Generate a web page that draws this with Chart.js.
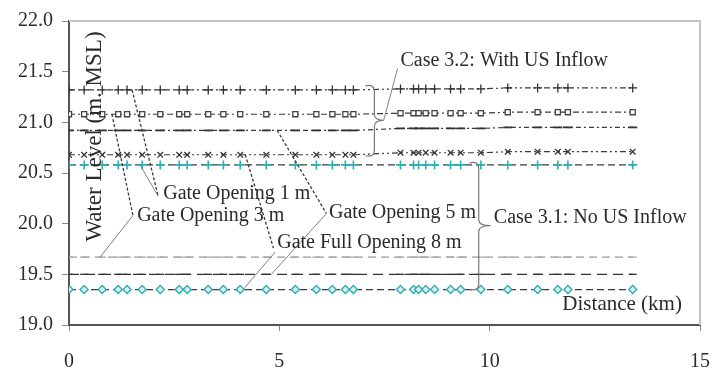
<!DOCTYPE html>
<html>
<head>
<meta charset="utf-8">
<script src="https://cdn.jsdelivr.net/npm/chart.js@4/dist/chart.umd.min.js"></script>
<style>
  html, body { margin: 0; padding: 0; background: #ffffff; }
  #wrap { width: 712px; height: 372px; }
</style>
</head>
<body>
<div id="wrap"><canvas id="c" width="712" height="372"></canvas></div>
<script>
// Cross-section chainages along the reach (km)
const distanceKm = [0, 0.36, 0.79, 1.17, 1.38, 1.74, 2.17, 2.62, 2.81, 3.31, 3.67, 4.07,
  4.69, 5.38, 5.88, 6.26, 6.57, 6.76, 7.88, 8.19, 8.31, 8.48, 8.69, 9.07, 9.31, 9.79,
  10.43, 11.14, 11.62, 11.86, 13.40];

// Case 3.2: with upstream inflow (water level, m MSL)
const withInflowGate1 = [21.32, 21.32, 21.32, 21.32, 21.32, 21.32, 21.32, 21.32, 21.32, 21.32,
  21.32, 21.32, 21.32, 21.32, 21.32, 21.32, 21.32, 21.32, 21.33, 21.33, 21.33, 21.33, 21.33,
  21.33, 21.33, 21.33, 21.34, 21.34, 21.34, 21.34, 21.34];
const withInflowGate3 = [21.08, 21.08, 21.08, 21.08, 21.08, 21.08, 21.08, 21.08, 21.08, 21.08,
  21.08, 21.08, 21.08, 21.08, 21.08, 21.08, 21.08, 21.08, 21.09, 21.09, 21.09, 21.09, 21.09,
  21.09, 21.09, 21.09, 21.10, 21.10, 21.10, 21.10, 21.10];
const withInflowGate5 = [20.92, 20.92, 20.92, 20.92, 20.92, 20.92, 20.92, 20.92, 20.92, 20.92,
  20.92, 20.92, 20.92, 20.92, 20.92, 20.92, 20.92, 20.92, 20.94, 20.94, 20.94, 20.94, 20.94,
  20.94, 20.94, 20.94, 20.95, 20.95, 20.95, 20.95, 20.95];
const withInflowGate8 = [20.68, 20.68, 20.68, 20.68, 20.68, 20.68, 20.68, 20.68, 20.68, 20.68,
  20.68, 20.68, 20.68, 20.68, 20.68, 20.68, 20.68, 20.68, 20.70, 20.70, 20.70, 20.70, 20.70,
  20.70, 20.70, 20.70, 20.71, 20.71, 20.71, 20.71, 20.71];

// Case 3.1: no upstream inflow (water level, m MSL)
const noInflowGate1 = [20.58, 20.58, 20.58, 20.58, 20.58, 20.58, 20.58, 20.58, 20.58, 20.58,
  20.58, 20.58, 20.58, 20.58, 20.58, 20.58, 20.58, 20.58, 20.58, 20.58, 20.58, 20.58, 20.58,
  20.58, 20.58, 20.58, 20.58, 20.58, 20.58, 20.58, 20.58];
const noInflowGate3 = [19.67, 19.67, 19.67, 19.67, 19.67, 19.67, 19.67, 19.67, 19.67, 19.67,
  19.67, 19.67, 19.67, 19.67, 19.67, 19.67, 19.67, 19.67, 19.67, 19.67, 19.67, 19.67, 19.67,
  19.67, 19.67, 19.67, 19.67, 19.67, 19.67, 19.67, 19.67];
const noInflowGate5 = [19.50, 19.50, 19.50, 19.50, 19.50, 19.50, 19.50, 19.50, 19.50, 19.50,
  19.50, 19.50, 19.50, 19.50, 19.50, 19.50, 19.50, 19.50, 19.50, 19.50, 19.50, 19.50, 19.50,
  19.50, 19.50, 19.50, 19.50, 19.50, 19.50, 19.50, 19.50];
const noInflowGate8 = [19.35, 19.35, 19.35, 19.35, 19.35, 19.35, 19.35, 19.35, 19.35, 19.35,
  19.35, 19.35, 19.35, 19.35, 19.35, 19.35, 19.35, 19.35, 19.35, 19.35, 19.35, 19.35, 19.35,
  19.35, 19.35, 19.35, 19.35, 19.35, 19.35, 19.35, 19.35];

const xTicks = [0, 5, 10, 15];
const yTicks = [19.0, 19.5, 20.0, 20.5, 21.0, 21.5, 22.0];

const axisTitleX = 'Distance (km)';
const axisTitleY = 'Water Level (m. MSL)';
const caseWith = 'Case 3.2: With US Inflow';
const caseWithout = 'Case 3.1: No US Inflow';
const gateLabels = ['Gate Opening 1 m', 'Gate Opening 3 m', 'Gate Opening 5 m', 'Gate Full Opening 8 m'];

const SERIF = '"Liberation Serif", "Times New Roman", serif';
const INK = '#2b2b2b';
const TEAL = '#33adb0';

function pts(ys) { return distanceKm.map((x, i) => ({ x: x, y: ys[i] })); }

function series(label, ys, opt) {
  return Object.assign({
    label: label,
    data: pts(ys),
    showLine: true,
    fill: false,
    tension: 0,
    borderWidth: 1.2,
    borderColor: '#3a3a3a',
    pointBorderWidth: 1.3,
    pointRadius: 3.8,
    pointBackgroundColor: '#ffffff'
  }, opt);
}

const datasets = [
  series('3.2 gate 1 m', withInflowGate1, { borderDash: [6, 3, 2, 3, 2, 3], pointStyle: 'cross', pointRadius: 4.5, pointBorderColor: '#333' }),
  series('3.2 gate 3 m', withInflowGate3, { borderDash: [6, 3, 2, 3], pointStyle: 'rect', pointRadius: 3.6, pointBorderColor: '#444' }),
  series('3.2 gate 5 m', withInflowGate5, { borderDash: [5, 3, 2, 3], pointStyle: 'line', pointRadius: 4.5, pointBorderColor: '#333', pointBorderWidth: 1.8 }),
  series('3.2 gate 8 m', withInflowGate8, { borderDash: [6, 3, 2, 3, 2, 3], pointStyle: 'crossRot', pointRadius: 4, pointBorderColor: '#333' }),
  series('3.1 gate 1 m', noInflowGate1, { borderDash: [7, 4], pointStyle: 'cross', pointRadius: 4.5, pointBorderColor: TEAL, pointBorderWidth: 1.6 }),
  series('3.1 gate 3 m', noInflowGate3, { borderDash: [8, 5], borderColor: '#9a9a9a', pointStyle: 'line', pointRadius: 4, pointBorderColor: '#aaaaaa' }),
  series('3.1 gate 5 m', noInflowGate5, { borderDash: [10, 6], borderColor: '#333', pointStyle: 'line', pointRadius: 4, pointBorderColor: '#333' }),
  series('3.1 gate 8 m', noInflowGate8, { borderDash: [7, 4], pointStyle: 'rectRot', pointRadius: 4, pointBorderColor: TEAL, pointBackgroundColor: '#d8f0f0', pointBorderWidth: 1.4 })
];

// Frame: light box on top/right, darker axis lines on left/bottom
const framePlugin = {
  id: 'frame',
  beforeDatasetsDraw(chart) {
    const a = chart.chartArea, ctx = chart.ctx;
    ctx.save();
    ctx.strokeStyle = '#c4c4c4';
    ctx.lineWidth = 2;
    ctx.beginPath();
    ctx.moveTo(a.left, a.top); ctx.lineTo(a.right, a.top); ctx.lineTo(a.right, a.bottom);
    ctx.stroke();
    ctx.restore();
  }
};

// Axis titles, case braces, and gate-opening callouts
const notesPlugin = {
  id: 'notes',
  afterDatasetsDraw(chart) {
    const ctx = chart.ctx;
    const xs = chart.scales.x, ys = chart.scales.y;
    const X = v => xs.getPixelForValue(v);
    const Y = v => ys.getPixelForValue(v);
    ctx.save();

    function text(str, x, y, size, align) {
      ctx.font = size + 'px ' + SERIF;
      ctx.fillStyle = INK;
      ctx.textAlign = align || 'left';
      ctx.textBaseline = 'middle';
      ctx.fillText(str, x, y);
    }
    function leader(x1, y1, x2, y2, dashed) {
      ctx.beginPath();
      ctx.setLineDash(dashed ? [3, 2] : []);
      ctx.strokeStyle = dashed ? '#3a3a3a' : '#808080';
      ctx.lineWidth = dashed ? 1.3 : 1;
      ctx.moveTo(X(x1), Y(y1));
      ctx.lineTo(X(x2), Y(y2));
      ctx.stroke();
      ctx.setLineDash([]);
    }
    function brace(xv, yTop, yBot, yNose, tipX) {
      const x = X(xv), t = Y(yTop), b = Y(yBot), n = Y(yNose), tip = X(tipX);
      ctx.beginPath();
      ctx.setLineDash([]);
      ctx.strokeStyle = '#7a7a7a';
      ctx.lineWidth = 1.2;
      ctx.moveTo(x - 9, t);
      ctx.quadraticCurveTo(x, t - 2, x, t + 6);
      ctx.lineTo(x, n - 6);
      ctx.quadraticCurveTo(x, n, tip, n);
      ctx.quadraticCurveTo(x, n, x, n + 6);
      ctx.lineTo(x, b - 6);
      ctx.quadraticCurveTo(x, b + 2, x - 9, b);
      ctx.stroke();
    }

    // y-axis title, drawn inside the plot
    ctx.save();
    ctx.translate(X(0.62), Y(20.86));
    ctx.rotate(-Math.PI / 2);
    text(axisTitleY, 0, 0, 23, 'center');
    ctx.restore();

    // x-axis title
    text(axisTitleX, X(14.57), Y(19.20), 21, 'right');

    // case braces and labels
    brace(7.26, 21.36, 20.67, 21.02, 7.48);
    leader(7.48, 21.02, 7.81, 21.53, false);
    text(caseWith, X(7.88), Y(21.61), 20);

    brace(9.74, 20.60, 19.35, 19.98, 10.02);
    text(caseWithout, X(10.10), Y(20.06), 20);

    // gate-opening callouts: dotted from Case 3.2 lines, solid from Case 3.1 lines
    leader(1.50, 21.32, 2.12, 20.27, true);
    leader(1.69, 20.58, 2.12, 20.27, false);
    text(gateLabels[0], X(2.24), Y(20.30), 20);

    leader(1.02, 21.08, 1.52, 20.08, true);
    leader(0.74, 19.67, 1.52, 20.08, false);
    text(gateLabels[1], X(1.62), Y(20.08), 20);

    leader(4.95, 20.92, 6.12, 20.10, true);
    leader(4.81, 19.50, 6.12, 20.10, false);
    text(gateLabels[2], X(6.18), Y(20.11), 20);

    leader(4.19, 20.68, 4.86, 19.76, true);
    leader(4.14, 19.35, 4.90, 19.72, false);
    text(gateLabels[3], X(4.95), Y(19.81), 20);

    ctx.restore();
  }
};

new Chart(document.getElementById('c'), {
  type: 'scatter',
  data: { datasets: datasets },
  plugins: [framePlugin, notesPlugin],
  options: {
    responsive: false,
    animation: false,
    devicePixelRatio: 1,
    layout: { padding: { top: 20, right: 12, left: 0, bottom: 0 } },
    plugins: { legend: { display: false }, tooltip: { enabled: false } },
    scales: {
      x: {
        type: 'linear',
        min: 0, max: 15,
        afterFit(scale) { scale.height = 47; scale.paddingLeft = 0; scale.paddingRight = 0; },
        afterBuildTicks(scale) { scale.ticks = xTicks.map(v => ({ value: v })); },
        border: { display: true, color: '#555', width: 2 },
        grid: { display: true, drawOnChartArea: false, drawTicks: true, tickLength: 6, color: '#888', lineWidth: 1 },
        ticks: { color: INK, padding: 19, font: { family: SERIF, size: 20 } }
      },
      y: {
        type: 'linear',
        min: 19, max: 22,
        afterFit(scale) { scale.width = 69; },
        afterBuildTicks(scale) { scale.ticks = yTicks.map(v => ({ value: v })); },
        border: { display: true, color: '#555', width: 2 },
        grid: { display: true, drawOnChartArea: false, drawTicks: true, tickLength: 7, color: '#888', lineWidth: 1 },
        ticks: { color: INK, padding: 9, font: { family: SERIF, size: 20 }, callback: v => Number(v).toFixed(1) }
      }
    }
  }
});
</script>
</body>
</html>
